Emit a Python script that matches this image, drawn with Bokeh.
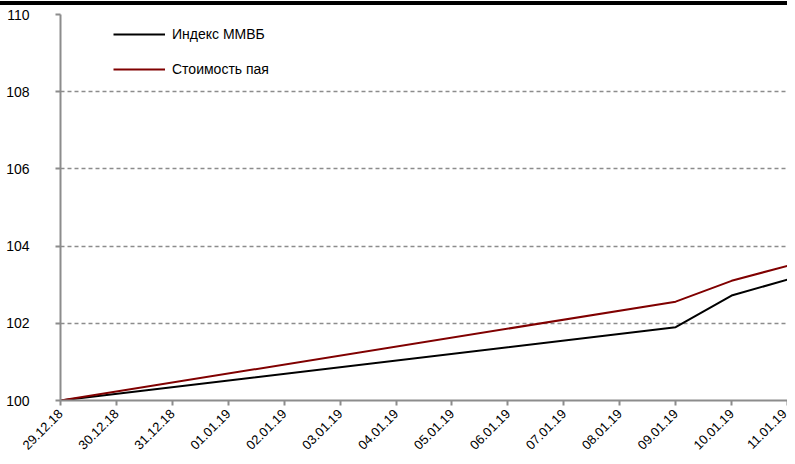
import math
from bokeh.plotting import figure
from bokeh.models import FixedTicker, Legend, LegendItem, Range1d, Div
from bokeh.layouts import column
from bokeh.embed import file_html
from bokeh.resources import INLINE

# --- data ---
tick_dates = ["29.12.18", "30.12.18", "31.12.18", "01.01.19", "02.01.19", "03.01.19",
              "04.01.19", "05.01.19", "06.01.19", "07.01.19", "08.01.19", "09.01.19",
              "10.01.19", "11.01.19"]
obs_dates = ["29.12.18", "09.01.19", "10.01.19", "11.01.19"]
index_mmvb = [100.0, 101.90, 102.72, 103.13]
unit_value = [100.0, 102.56, 103.10, 103.49]
y_ticks = [100, 102, 104, 106, 108, 110]

xs = [tick_dates.index(d) for d in obs_dates]

p = figure(width=787, height=451, output_backend="svg", toolbar_location=None,
           x_range=Range1d(0, len(tick_dates) - 1), y_range=Range1d(100, 110),
           min_border_left=60, min_border_right=0, min_border_top=9, min_border_bottom=52)
p.outline_line_color = None
p.background_fill_color = "white"
p.border_fill_color = "white"
p.margin = 0

r1 = p.line(xs, index_mmvb, line_color="#000000", line_width=2)
r2 = p.line(xs, unit_value, line_color="#800000", line_width=2)

font = "Liberation Sans"

# x axis
p.xaxis.ticker = FixedTicker(ticks=list(range(len(tick_dates))))
p.xaxis.major_label_overrides = {i: d for i, d in enumerate(tick_dates)}
p.xaxis.major_label_orientation = math.pi / 4
p.xaxis.major_label_text_font = font
p.xaxis.major_label_text_font_size = "13px"
p.xaxis.major_label_text_color = "black"
p.xaxis.axis_line_color = "#8c8c8c"
p.xaxis.axis_line_width = 2
p.xaxis.major_tick_line_color = "#8c8c8c"
p.xaxis.major_tick_line_width = 2
p.xaxis.major_tick_in = 0
p.xaxis.major_tick_out = 5
p.xaxis.minor_tick_line_color = None
p.xaxis.major_label_standoff = 6

# y axis
p.yaxis.ticker = FixedTicker(ticks=y_ticks)
p.yaxis.major_label_text_font = font
p.yaxis.major_label_text_font_size = "14px"
p.yaxis.major_label_text_color = "black"
p.yaxis.axis_line_color = "#8c8c8c"
p.yaxis.axis_line_width = 2
p.yaxis.major_tick_line_color = "#8c8c8c"
p.yaxis.major_tick_line_width = 2
p.yaxis.major_tick_in = 0
p.yaxis.major_tick_out = 5
p.yaxis.minor_tick_line_color = None
p.yaxis.major_label_standoff = 26

# grid
p.xgrid.grid_line_color = None
p.ygrid.ticker = FixedTicker(ticks=[t for t in y_ticks if t > 100])
p.ygrid.grid_line_color = "#8c8c8c"
p.ygrid.grid_line_width = 1.5
p.ygrid.grid_line_dash = "4 3"

legend = Legend(items=[LegendItem(label="Индекс ММВБ", renderers=[r1]),
                       LegendItem(label="Стоимость пая", renderers=[r2])],
                location=(53, 321), orientation="vertical")
legend.background_fill_alpha = 0
legend.border_line_color = None
legend.padding = 0
legend.margin = 0
legend.spacing = 15
legend.glyph_width = 52
legend.glyph_height = 20
legend.label_height = 20
legend.label_standoff = 7
legend.label_text_font = font
legend.label_text_font_size = "14px"
legend.label_text_color = "black"
p.add_layout(legend)

top_bar = Div(text="", width=787, height=5, margin=0,
              styles={"background": "linear-gradient(#ffffff 0px 1px, #000000 1px 5px)"})

layout = column(top_bar, p, spacing=0, margin=0)

open("out.html", "w").write(file_html(layout, INLINE))
